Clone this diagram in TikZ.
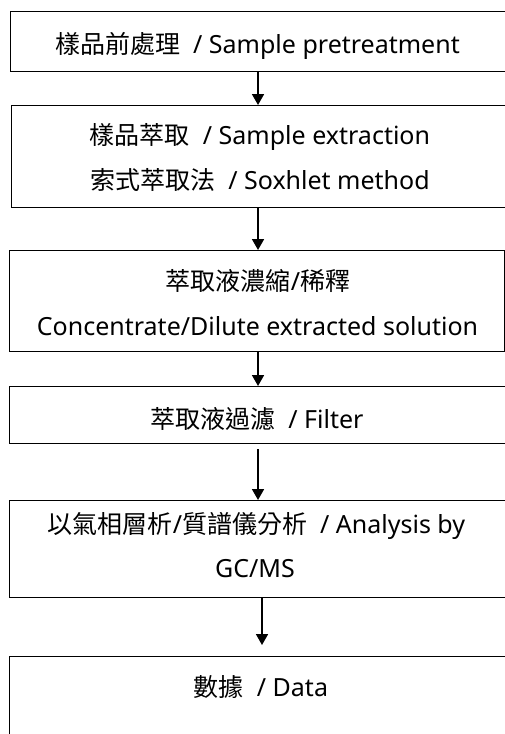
\documentclass[tikz,border=0pt]{standalone}
\usepackage{fontspec}
\setmainfont{Noto Sans}
\newfontfamily\cjk{Noto Sans CJK TC}
\usetikzlibrary{arrows.meta}
\tikzset{
  box/.style={draw=black, line width=1.3pt, rectangle},
  lbl/.style={anchor=base, inner sep=0pt, font=\fontsize{25}{30}\selectfont},
  flow/.style={line width=1.8pt, -{Triangle[length=11pt,width=12pt]}},
}
\begin{document}
\begin{tikzpicture}[x=1pt,y=-1pt]
\useasboundingbox (0,0) rectangle (505,734);
\clip (0,0) rectangle (505,734);
\fill[white] (0,0) rectangle (505,734);
% boxes
\node[box, minimum width=500.5pt, minimum height=60pt, anchor=north west] (b1) at (9.5,11) {};
\node[box, minimum width=499pt, minimum height=102pt, anchor=north west] (b2) at (11,105) {};
\node[box, minimum width=495pt, minimum height=101pt, anchor=north west] (b3) at (9,250) {};
\node[box, minimum width=501pt, minimum height=57pt, anchor=north west] (b4) at (9,386) {};
\node[box, minimum width=501pt, minimum height=97pt, anchor=north west] (b5) at (9,500) {};
\node[box, minimum width=501pt, minimum height=104pt, anchor=north west] (b6) at (9,656) {};
% labels
\node[lbl] (t1) at (257.5,53) {{\cjk 樣品前處理}\ \ / Sample pretreatment};
\node[lbl] (t2a) at (260,144) {{\cjk 樣品萃取}\ \ / Sample extraction};
\node[lbl] (t2b) at (260,189) {{\cjk 索式萃取法}\ \ / Soxhlet method};
\node[lbl] (t3a) at (258,290) {{\cjk 萃取液濃縮}/{\cjk 稀釋}};
\node[lbl] (t3b) at (257.5,335) {Concentrate/Dilute extracted solution};
\node[lbl] (t4) at (257,428) {{\cjk 萃取液過濾}\ \ / Filter};
\node[lbl] (t5a) at (256.5,533) {{\cjk 以氣相層析}/{\cjk 質譜儀分析}\ \ / Analysis by};
\node[lbl] (t5b) at (255,577) {GC/MS};
\node[lbl] (t6) at (261,696) {{\cjk 數據}\ \ / Data};
% arrow columns
\coordinate (ax) at (258,0);
\coordinate (ay) at (262,0);
\draw[flow] (b1.south -| ax) -- (b2.north -| ax);
\draw[flow] (b2.south -| ax) -- (b3.north -| ax);
\draw[flow] (b3.south -| ax) -- (b4.north -| ax);
\draw[flow, shorten <=5pt] (b4.south -| ax) -- (b5.north -| ax);
\draw[flow, shorten >=11pt] (b5.south -| ay) -- (b6.north -| ay);
\end{tikzpicture}
\end{document}
